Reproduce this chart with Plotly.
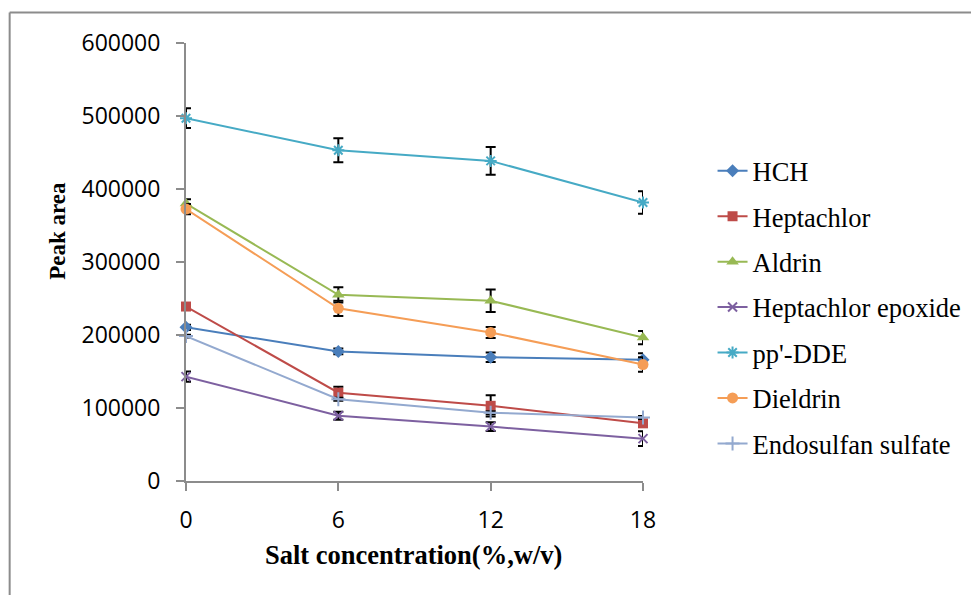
import plotly.graph_objects as go

salt = [0, 6, 12, 18]
tick_labels = ["0", "6", "12", "18"]

hch = [210500, 177500, 169500, 166000]
hch_err = [3500, 4000, 6500, 9000]
heptachlor = [239000, 121000, 103000, 79000]
heptachlor_err = [3000, 8000, 14500, 4000]
aldrin = [380000, 255000, 247000, 196500]
aldrin_err = [6000, 10500, 15500, 9000]
hept_epoxide = [143000, 89500, 74500, 58000]
hept_epoxide_err = [7000, 5500, 6000, 10000]
ppdde = [497000, 453000, 438500, 381500]
ppdde_err = [13500, 16500, 19000, 15500]
dieldrin = [372500, 236500, 203500, 159500]
dieldrin_err = [7000, 10500, 7500, 10000]
endosulfan = [198500, 112000, 93500, 87000]
endosulfan_err = [2000, 2000, 2000, 2000]

series = [
    ("HCH", hch, hch_err, "#4A7EBB", "diamond", 10),
    ("Heptachlor", heptachlor, heptachlor_err, "#BE4B48", "square", 10),
    ("Aldrin", aldrin, aldrin_err, "#98B954", "triangle-up", 11),
    ("Heptachlor epoxide", hept_epoxide, hept_epoxide_err, "#7D60A0", "x-thin-open", 9),
    ("pp'-DDE", ppdde, ppdde_err, "#46AAC5", "asterisk-open", 10),
    ("Dieldrin", dieldrin, dieldrin_err, "#F59D56", "circle", 11),
    ("Endosulfan sulfate", endosulfan, endosulfan_err, "#93A9CF", "cross-thin-open", 10),
]

OFF = 8  # page body margin
W, H = 979, 595
L, R, T, B = 186, 646, 43, 481
pw, ph = R - L, B - T

fig = go.Figure()
for name, vals, err, color, sym, size in series:
    open_sym = sym.endswith("-open")
    fig.add_trace(go.Scatter(
        x=salt, y=vals, name=name, mode="lines+markers",
        legendgroup=name,
        line=dict(color=color, width=2),
        marker=dict(symbol=sym, size=size, color=color,
                    line=dict(color=color, width=2 if open_sym else 0)),
        error_y=dict(type="data", array=err, visible=True, color="black",
                     thickness=2, width=5),
        cliponaxis=False,
    ))

fig.update_layout(
    width=W - OFF, height=H - OFF, autosize=False,
    margin=dict(l=L - OFF, r=W - R, t=T - OFF, b=H - B),
    paper_bgcolor="white", plot_bgcolor="white",
    showlegend=True,
    legend=dict(
        x=(716 - L) / pw, y=(B - 147) / ph, xanchor="left", yanchor="top",
        font=dict(family="Liberation Serif", size=26.5, color="black"),
        tracegroupgap=8, bgcolor="rgba(0,0,0,0)",
    ),
    xaxis=dict(
        range=[0, 18], tickvals=salt, ticktext=tick_labels,
        showgrid=False, zeroline=False, showline=True,
        linecolor="#8C8C8C", linewidth=2,
        ticks="outside", ticklen=8, tickwidth=2, tickcolor="#8C8C8C",
        tickfont=dict(family="Open Sans", size=23, color="black"),
        ticklabelstandoff=9,
    ),
    yaxis=dict(
        range=[0, 600000], tickvals=[0, 100000, 200000, 300000, 400000, 500000, 600000],
        ticktext=["0", "100000", "200000", "300000", "400000", "500000", "600000"],
        showgrid=False, zeroline=False, showline=True,
        linecolor="#8C8C8C", linewidth=2,
        ticks="outside", ticklen=8, tickwidth=2, tickcolor="#8C8C8C",
        tickfont=dict(family="Open Sans", size=23, color="black"),
        ticklabelstandoff=11,
    ),
    annotations=[
        dict(text="<b>Peak area</b>", textangle=-90, xref="paper", yref="paper",
             x=(56 - L) / pw, y=(B - 231) / ph, xanchor="center", yanchor="middle",
             showarrow=False, font=dict(family="Liberation Serif", size=23, color="black")),
        dict(text="<b>Salt concentration(%,w/v)</b>", xref="paper", yref="paper",
             x=(415 - L) / pw, y=(B - 555) / ph, xanchor="center", yanchor="middle",
             showarrow=False, font=dict(family="Liberation Serif", size=26.5, color="black")),
    ],
    shapes=[
        dict(type="line", xref="paper", yref="paper",
             x0=(8.5 - L) / pw, x1=(1000 - L) / pw, y0=(B - 12.5) / ph, y1=(B - 12.5) / ph,
             line=dict(color="#8C8C8C", width=2)),
        dict(type="line", xref="paper", yref="paper",
             x0=(8.5 - L) / pw, x1=(8.5 - L) / pw, y0=(B - 12.5) / ph, y1=(B - 620) / ph,
             line=dict(color="#8C8C8C", width=2)),
    ],
)

fig.write_html("out.html")
